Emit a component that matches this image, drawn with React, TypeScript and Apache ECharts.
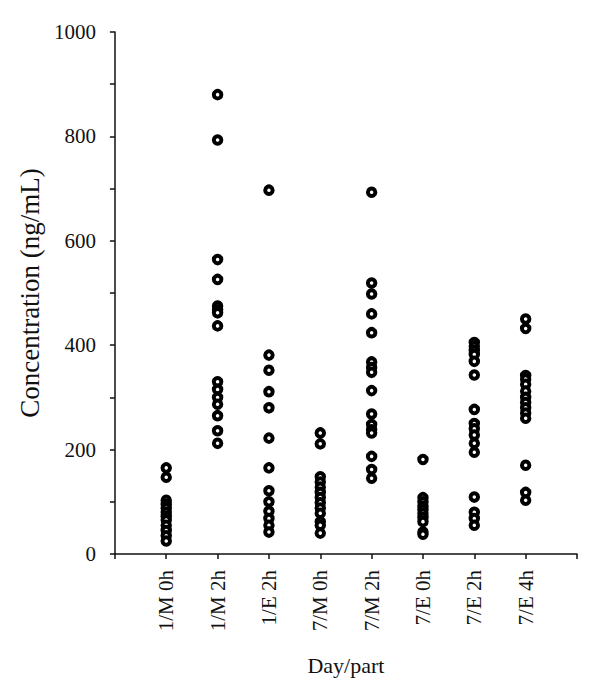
import React, { useEffect, useRef } from "react";
import * as echarts from "echarts";

const categories = ["1/M 0h", "1/M 2h", "1/E 2h", "7/M 0h", "7/M 2h", "7/E 0h", "7/E 2h", "7/E 4h"];

const m1_0h = [165, 147, 103, 95, 88, 80, 72, 65, 55, 45, 35, 25];
const m1_2h = [880, 793, 564, 526, 475, 468, 462, 437, 330, 315, 300, 287, 265, 236, 212];
const e1_2h = [697, 381, 352, 311, 280, 222, 165, 121, 100, 82, 68, 55, 42];
const m7_0h = [232, 211, 148, 138, 128, 118, 108, 98, 88, 78, 62, 55, 40];
const m7_2h = [693, 519, 498, 460, 424, 368, 357, 348, 313, 268, 248, 238, 232, 187, 162, 145];
const e7_0h = [181, 108, 100, 92, 85, 78, 70, 62, 42, 38];
const e7_2h = [405, 398, 390, 382, 369, 343, 277, 250, 240, 228, 212, 195, 109, 80, 68, 55];
const e7_4h = [450, 432, 342, 335, 325, 312, 300, 290, 280, 270, 260, 170, 118, 103];

const groups = [m1_0h, m1_2h, e1_2h, m7_0h, m7_2h, e7_0h, e7_2h, e7_4h];

const yTickLabels = [0, 200, 400, 600, 800, 1000];

export default function App() {
  const ref = useRef<HTMLDivElement>(null);
  useEffect(() => {
    if (!ref.current) return;
    const chart = echarts.init(ref.current, undefined, { renderer: "svg" });
    const font = "'Liberation Serif', 'DejaVu Serif', serif";
    const data: number[][] = [];
    groups.forEach((g, i) => g.forEach((v) => data.push([i + 1, v])));
    chart.setOption({
      animation: false,
      backgroundColor: "#fff",
      grid: { left: 105, right: 31, top: 24, bottom: 154 },
      xAxis: {
        type: "value",
        min: 0,
        max: 9,
        interval: 1,
        offset: 6,
        name: "Day/part",
        nameLocation: "middle",
        nameGap: 94,
        nameTextStyle: { fontFamily: font, fontSize: 22, color: "#111" },
        axisLine: { show: true, lineStyle: { color: "#111", width: 1.5 } },
        axisTick: { show: true, length: 5, inside: false, lineStyle: { color: "#111", width: 1.5 } },
        splitLine: { show: false },
        axisLabel: {
          rotate: 90,
          margin: 10,
          fontFamily: font,
          fontSize: 21,
          color: "#111",
          formatter: (v: number) => (v >= 1 && v <= 8 ? categories[Math.round(v) - 1] : ""),
        },
      },
      yAxis: {
        type: "value",
        min: 0,
        max: 1000,
        interval: 100,
        offset: 3,
        name: "Concentration (ng/mL)",
        nameLocation: "middle",
        nameGap: 64,
        nameTextStyle: { fontFamily: font, fontSize: 27, color: "#111" },
        axisLine: { show: true, lineStyle: { color: "#111", width: 1.5 } },
        axisTick: { show: true, length: 5, lineStyle: { color: "#111", width: 1.5 } },
        splitLine: { show: false },
        axisLabel: {
          margin: 16,
          fontFamily: font,
          fontSize: 21,
          color: "#111",
          formatter: (v: number) => (yTickLabels.includes(v) ? String(v) : ""),
        },
      },
      series: [
        {
          type: "scatter",
          data,
          symbol: "circle",
          symbolSize: 7.5,
          itemStyle: { color: "#fff", borderColor: "#000", borderWidth: 4, opacity: 1 },
        },
      ],
    });
    return () => chart.dispose();
  }, []);
  return <div ref={ref} style={{ width: 600, height: 700 }} />;
}
